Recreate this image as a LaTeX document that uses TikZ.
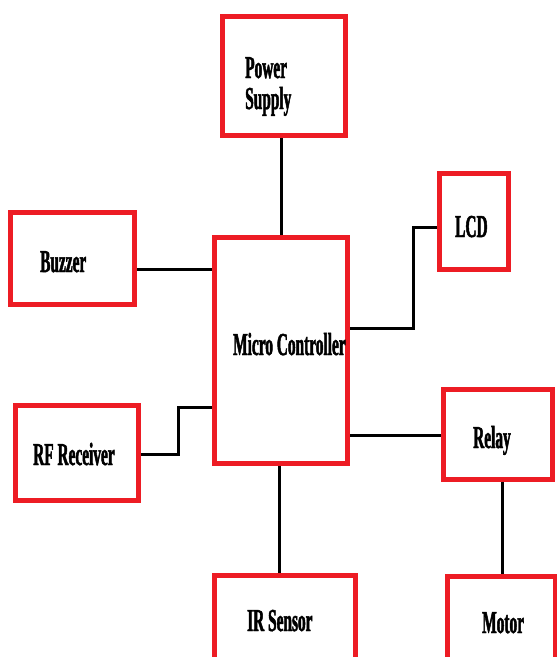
\documentclass[tikz,border=0pt]{standalone}
\usepackage{fontspec}
\newfontfamily\condfont{Liberation Serif}[FakeStretch=0.48,BoldFeatures={FakeBold=1.5}]
\definecolor{boxred}{RGB}{237,28,36}

\begin{document}
\begin{tikzpicture}[x=1pt,y=-1pt]
    % Define styles
    \tikzstyle{block}=[rectangle,draw=boxred,line width=5pt,inner sep=0pt]
    \tikzstyle{wire}=[line width=3pt,black]
    \tikzstyle{blocktext}=[anchor=base west,inner sep=0pt,align=left,
        font=\condfont\bfseries\fontsize{32}{31}\selectfont]

    \useasboundingbox (0,0) rectangle (557,657);
    \clip (0,0) rectangle (557,657);

    % Draw the nodes
    \node[block,minimum width=123pt,minimum height=119pt] (1) at (284,76) {};
    \node[block,minimum width=69pt,minimum height=96pt] (2) at (474,221.5) {};
    \node[block,minimum width=124pt,minimum height=92pt] (3) at (72.5,258.5) {};
    \node[block,minimum width=133pt,minimum height=226pt] (4) at (281,350.5) {};
    \node[block,minimum width=123pt,minimum height=95pt] (5) at (77,453) {};
    \node[block,minimum width=109pt,minimum height=90pt] (6) at (498,434.5) {};
    \node[block,minimum width=141pt,minimum height=142pt] (7) at (285,646.5) {};
    \node[block,minimum width=108pt,minimum height=142pt] (8) at (501.5,647.5) {};

    % Add the texts
    \node[blocktext] (t1) at (245,109) {Power\\Supply};
    \node[blocktext] (t2) at (455,237) {LCD};
    \node[blocktext] (t3) at (40,272) {Buzzer};
    \node[blocktext] (t4) at (233,355) {Micro Controller};
    \node[blocktext] (t5) at (33,465) {RF Receiver};
    \node[blocktext] (t6) at (473,448) {Relay};
    \node[blocktext] (t7) at (247,631) {IR Sensor};
    \node[blocktext] (t8) at (482,633) {Motor};

    % Draw the edges
    \draw[wire] (4.north) -- (4.north |- 1.south);
    \draw[wire] (3.east |- 0,269) -- (4.west |- 0,269);
    \draw[wire] (4.east |- 0,328) -- (413,328) |- (2.west |- 0,227);
    \draw[wire] (5.east |- 0,454) -- (178,454) |- (4.west |- 0,407);
    \draw[wire] (4.east |- 0,435) -- (6.west |- 0,435);
    \draw[wire] (4.south -| 279,0) -- (7.north -| 279,0);
    \draw[wire] (6.south -| 502,0) -- (8.north -| 502,0);
\end{tikzpicture}
\end{document}
